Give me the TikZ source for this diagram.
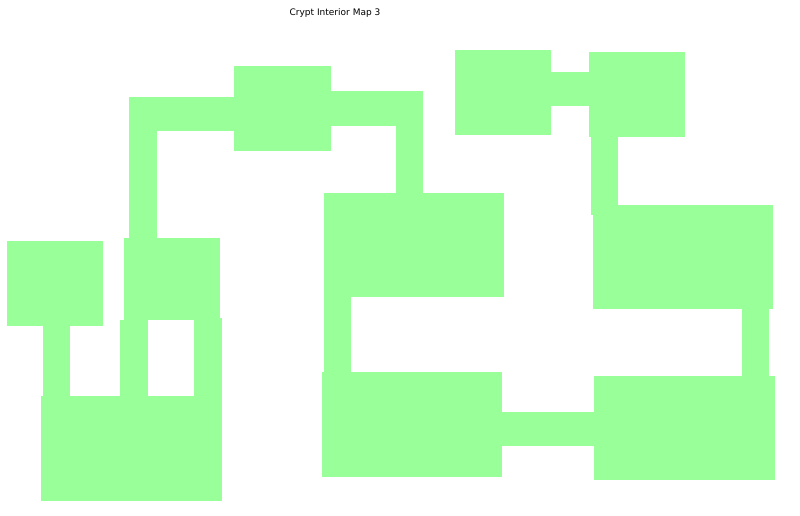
\documentclass[tikz,border=0pt]{standalone}
\usepackage{fontspec}
\setmainfont{DejaVu Sans}
\definecolor{floorgreen}{RGB}{153,255,153}
\tikzset{floor/.style={fill=floorgreen,draw=none}}
\begin{document}
\begin{tikzpicture}[x=1pt,y=-1pt]
\useasboundingbox (0,0) rectangle (800,516);
\node (title) at (335,13) {\small Crypt Interior Map 3};
% rooms
\foreach \xa/\ya/\xb/\yb in {7/241/103/326, 124/238/220/320, 41/396/222/501,
  234/66/331/151, 324/193/504/297, 322/372/502/477, 455/50/551/135,
  589/52/685/137, 593/205/773/309, 594/376/775/480}
  \fill[floor] (\xa,\ya) rectangle (\xb,\yb);
% corridors
\foreach \xa/\ya/\xb/\yb in {129/97/234/131, 129/97/157/238, 331/91/423/126,
  396/91/423/193, 551/72/589/106, 591/137/618/215, 742/309/769/376,
  502/412/594/446, 324/297/351/372, 43/326/70/396, 120/320/148/396,
  194/318/222/396}
  \fill[floor] (\xa,\ya) rectangle (\xb,\yb);
\end{tikzpicture}
\end{document}
